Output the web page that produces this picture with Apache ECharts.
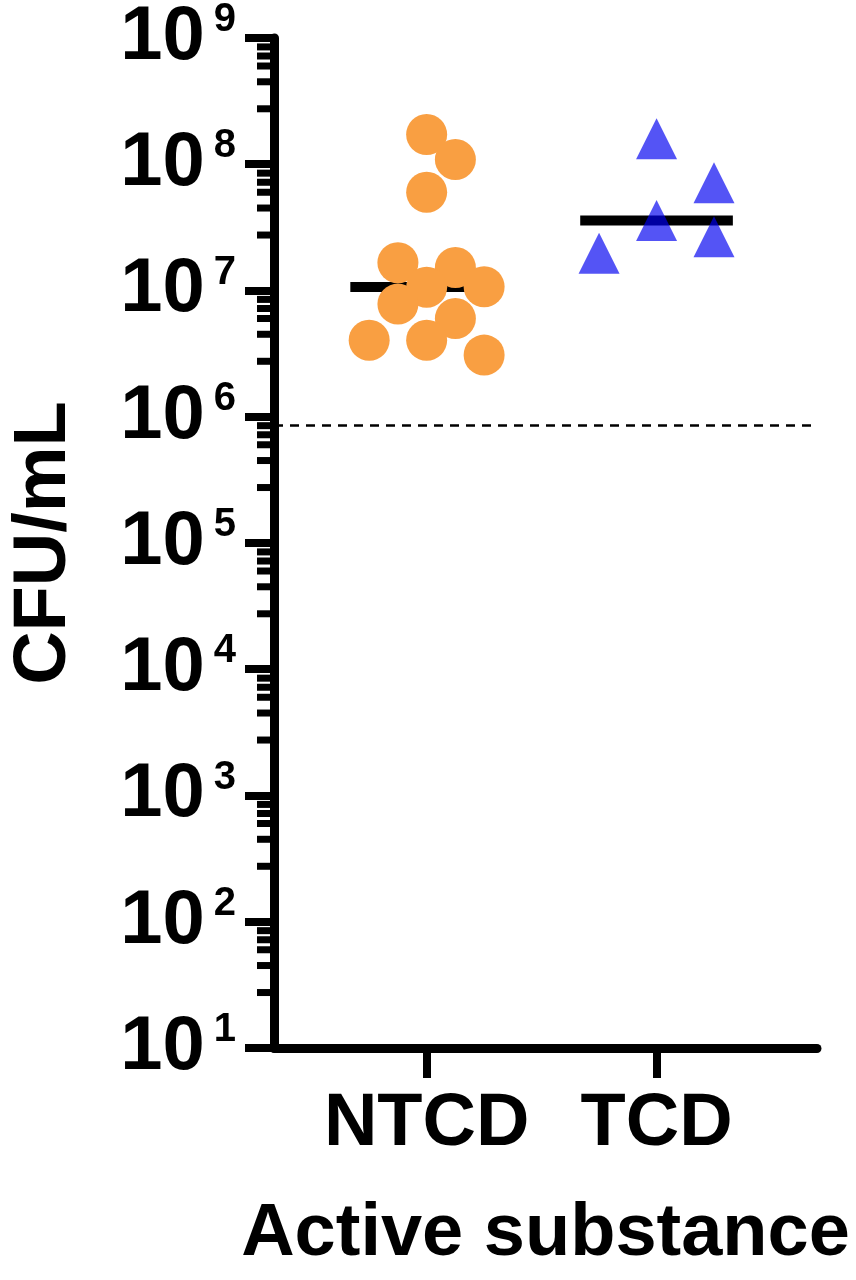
<!DOCTYPE html>
<html>
<head>
<meta charset="utf-8">
<script src="https://cdn.jsdelivr.net/npm/echarts@6/dist/echarts.min.js"></script>
<style>
  html, body { margin: 0; padding: 0; background: #fff; }
  #chart { width: 856px; height: 1280px; }
</style>
</head>
<body>
<div id="chart"></div>
<script>
// groups on the x axis
var categories = ['NTCD', 'TCD']

// CFU/mL per sample, with the horizontal spread of the swarm (in category units)
var ntcdValues = [1.72e8, 1.09e8, 6.0e7, 1.66e7, 1.52e7, 1.06e7, 1.07e7, 7.8e6, 6.0e6, 4.04e6, 4.04e6, 3.08e6]
var ntcdJitter = [0, 0.125, 0, -0.125, 0.125, 0, 0.25, -0.125, 0.125, -0.25, 0, 0.25]
var tcdValues = [1.59e8, 7.15e7, 3.59e7, 2.66e7, 1.97e7]
var tcdJitter = [0, 0.25, 0, 0.25, -0.25]

// detection limit (dashed line)
var lodValue = 8.6e5

// y axis range (powers of ten)
var yMin = 10
var yMax = 1e9
// where the short ticks sit inside each decade
var minorMultipliers = [2.75, 4.5, 6, 7.2, 8.5]

var xMin = -0.664
var xMax = 1.698

function median(arr) {
    var s = arr.slice().sort(function (a, b) { return a - b })
    var n = s.length
    return n % 2 ? s[(n - 1) / 2] : (s[n / 2 - 1] + s[n / 2]) / 2
}

function points(values, jitter, pos) {
    var out = []
    for (var i = 0; i < values.length; i++) {
        out.push([pos + jitter[i], values[i]])
    }
    return out
}

var minorTicks = []
for (var k = 1; k < 9; k++) {
    for (var j = 0; j < minorMultipliers.length; j++) {
        minorTicks.push([xMin, minorMultipliers[j] * Math.pow(10, k)])
    }
}

var font = "'Liberation Sans', Arial, sans-serif"

var myChart = echarts.init(document.getElementById('chart'))

var option = {
    backgroundColor: '#fff',
    animation: false,
    textStyle: { fontFamily: font },
    grid: { left: 269, right: 39, top: 31, bottom: 232, containLabel: false },
    xAxis: {
        type: 'value',
        min: xMin,
        max: xMax,
        name: 'Active substance',
        nameLocation: 'middle',
        nameGap: 150,
        nameTextStyle: { fontSize: 74, fontWeight: 'bold', color: '#000', fontFamily: font },
        axisLine: { show: true, onZero: false, lineStyle: { color: '#000', width: 9 } },
        axisTick: { show: true, length: 30, lineStyle: { color: '#000', width: 8 }, customValues: [0, 1] },
        axisLabel: {
            customValues: [0, 1],
            margin: 40,
            fontSize: 74,
            fontWeight: 'bold',
            color: '#000',
            fontFamily: font,
            formatter: function (v) { return categories[Math.round(v)] }
        },
        splitLine: { show: false }
    },
    yAxis: {
        type: 'log',
        logBase: 10,
        min: yMin,
        max: yMax,
        splitNumber: 8,
        name: 'CFU/mL',
        nameLocation: 'middle',
        nameRotate: 90,
        nameGap: 192,
        nameTextStyle: { fontSize: 74, fontWeight: 'bold', color: '#000', fontFamily: font },
        axisLine: { show: true, onZero: false, lineStyle: { color: '#000', width: 9 } },
        axisTick: { show: true, length: 29, lineStyle: { color: '#000', width: 8 } },
        axisLabel: {
            margin: 38,
            color: '#000',
            formatter: function (v) {
                return '{b|10}{s|' + Math.round(Math.log10(v)) + '}'
            },
            rich: {
                b: { fontSize: 76, fontWeight: 'bold', lineHeight: 76, fontFamily: font, color: '#000' },
                s: { fontSize: 40, fontWeight: 'bold', lineHeight: 40, verticalAlign: 'top', padding: [0, 0, 0, 9], fontFamily: font, color: '#000' }
            }
        },
        splitLine: { show: false }
    },
    series: [
        {
            // short ticks between the powers of ten
            type: 'custom',
            silent: true,
            clip: false,
            z: 1,
            encode: { x: 0, y: 1 },
            data: minorTicks,
            renderItem: function (params, api) {
                var p = api.coord([api.value(0), api.value(1)])
                return {
                    type: 'line',
                    shape: { x1: p[0] - 17, y1: p[1], x2: p[0], y2: p[1] },
                    style: { stroke: '#000', lineWidth: 7 }
                }
            }
        },
        {
            // median bars
            type: 'custom',
            silent: true,
            z: 2,
            encode: { x: 0, y: 1 },
            data: [[0, median(ntcdValues)], [1, median(tcdValues)]],
            renderItem: function (params, api) {
                var x = api.value(0), y = api.value(1)
                var a = api.coord([x - 0.332, y])
                var b = api.coord([x + 0.332, y])
                return {
                    type: 'line',
                    shape: { x1: a[0], y1: a[1], x2: b[0], y2: b[1] },
                    style: { stroke: '#000', lineWidth: 10 }
                }
            }
        },
        {
            name: 'NTCD',
            type: 'scatter',
            z: 3,
            symbol: 'circle',
            symbolSize: 41,
            itemStyle: { color: '#F99F42', opacity: 1 },
            data: points(ntcdValues, ntcdJitter, 0),
            markLine: {
                silent: true,
                symbol: ['none', 'none'],
                label: { show: false },
                lineStyle: { color: '#000', width: 2.5, type: [9, 7] },
                data: [{ yAxis: lodValue }]
            }
        },
        {
            name: 'TCD',
            type: 'scatter',
            z: 4,
            symbol: 'triangle',
            symbolSize: [41, 41],
            itemStyle: { color: 'rgba(0,0,240,0.84)' },
            data: points(tcdValues, tcdJitter, 1)
        }
    ]
}

myChart.setOption(option)
</script>
</body>
</html>
